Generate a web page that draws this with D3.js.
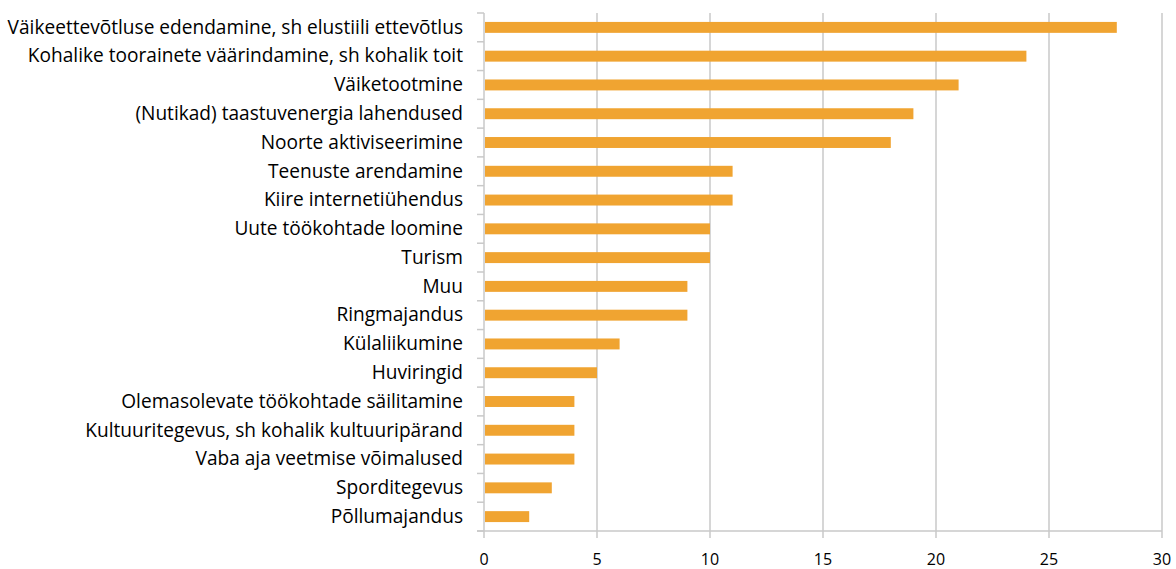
<!DOCTYPE html>
<html><head><meta charset="utf-8">
<script src="https://cdn.jsdelivr.net/npm/d3@7"></script>
<style>body{margin:0;background:#fff}svg{display:block}text{font-family:"Open Sans",sans-serif;fill:#000}</style>
</head><body><svg id="c" width="1176" height="569"></svg>
<script>
const categories = ["Väikeettevõtluse edendamine, sh elustiili ettevõtlus","Kohalike toorainete väärindamine, sh kohalik toit","Väiketootmine","(Nutikad) taastuvenergia lahendused","Noorte aktiviseerimine","Teenuste arendamine","Kiire internetiühendus","Uute töökohtade loomine","Turism","Muu","Ringmajandus","Külaliikumine","Huviringid","Olemasolevate töökohtade säilitamine","Kultuuritegevus, sh kohalik kultuuripärand","Vaba aja veetmise võimalused","Sporditegevus","Põllumajandus"];
const values = [28,24,21,19,18,11,11,10,10,9,9,6,5,4,4,4,3,2];
const xTicks = [0,5,10,15,20,25,30];

const svg = d3.select("#c");
const L = 484, R = 1162, T = 13, B = 531;
const x = d3.scaleLinear().domain([0,30]).range([L,R]);
const y = d3.scaleBand().domain(categories).range([T,B]).paddingInner(0.62).paddingOuter(0.31);
const grid = "#c9c9c9";

svg.append("g").selectAll("line").data(xTicks).join("line")
  .attr("x1",d=>x(d)).attr("x2",d=>x(d)).attr("y1",T).attr("y2",B+7)
  .attr("stroke",grid).attr("stroke-width",1.5);
svg.append("line").attr("x1",L-7).attr("x2",R).attr("y1",B).attr("y2",B).attr("stroke",grid).attr("stroke-width",1.5);
const step = (B-T)/categories.length;
svg.append("g").selectAll("line").data(d3.range(categories.length+1)).join("line")
  .attr("x1",L-7).attr("x2",L).attr("y1",i=>T+i*step).attr("y2",i=>T+i*step)
  .attr("stroke",grid).attr("stroke-width",1.5);

svg.append("g").selectAll("rect").data(values).join("rect")
  .attr("x",x(0)+1).attr("y",(d,i)=>y(categories[i]))
  .attr("width",d=>x(d)-x(0)-1).attr("height",y.bandwidth())
  .attr("fill","#f0a431");

svg.append("g").selectAll("text").data(categories).join("text")
  .attr("x",463).attr("y",d=>y(d)+y.bandwidth()/2).attr("dy","0.33em")
  .attr("text-anchor","end").attr("font-size",19.1).text(d=>d);

svg.append("g").selectAll("text").data(xTicks).join("text")
  .attr("x",d=>x(d)).attr("y",565)
  .attr("text-anchor","middle").attr("font-size",16).text(d=>d);
</script></body></html>
